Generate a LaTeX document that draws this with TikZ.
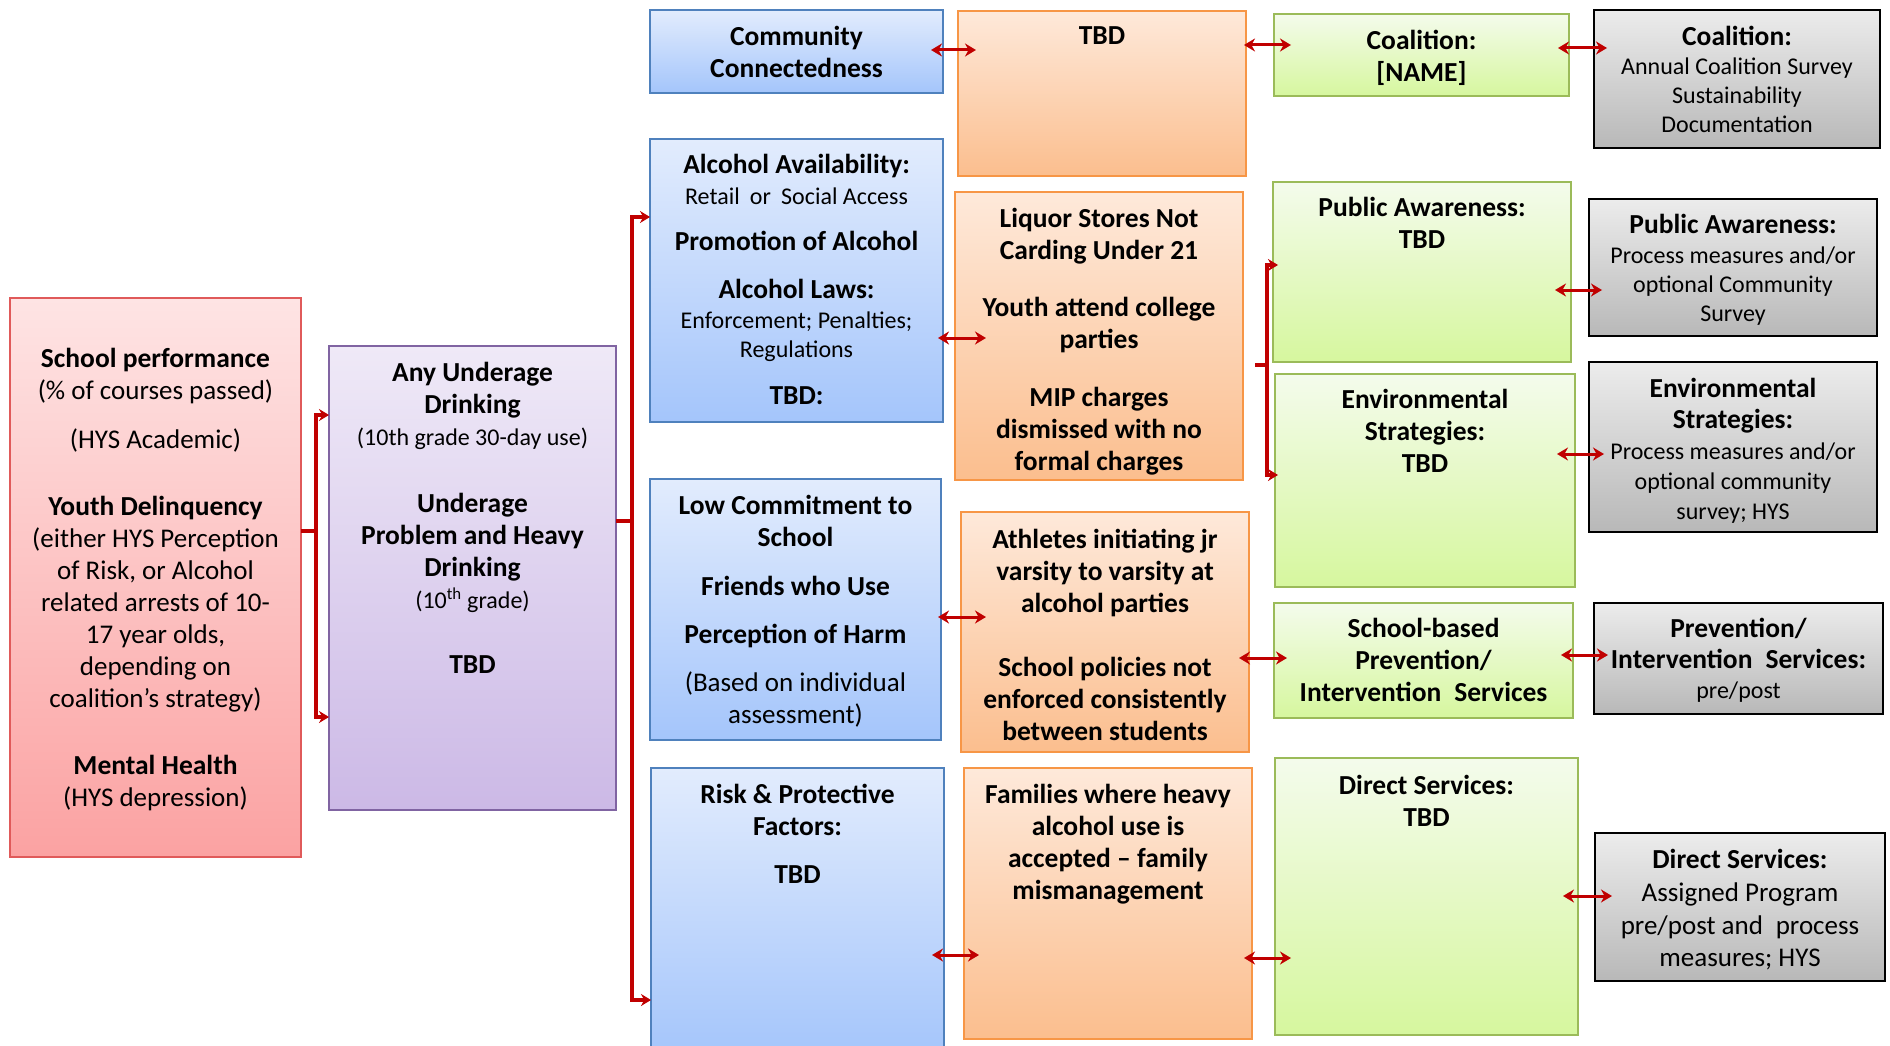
\documentclass[tikz,border=0pt]{standalone}
\usepackage{fontspec}
\setmainfont{Carlito}
\usetikzlibrary{arrows.meta}

\definecolor{arrowred}{RGB}{192,0,0}
\definecolor{redtop}{RGB}{254,228,228}
\definecolor{redbot}{RGB}{251,162,162}
\definecolor{redline}{RGB}{224,90,90}
\definecolor{purtop}{RGB}{239,233,247}
\definecolor{purbot}{RGB}{204,185,230}
\definecolor{purline}{RGB}{128,100,162}
\definecolor{blutop}{RGB}{226,236,253}
\definecolor{blubot}{RGB}{164,197,251}
\definecolor{bluline}{RGB}{79,129,189}
\definecolor{orgtop}{RGB}{254,233,218}
\definecolor{orgbot}{RGB}{251,190,142}
\definecolor{orgline}{RGB}{247,150,70}
\definecolor{grntop}{RGB}{244,251,236}
\definecolor{grnbot}{RGB}{214,247,158}
\definecolor{grnline}{RGB}{155,187,89}
\definecolor{gratop}{RGB}{236,236,236}
\definecolor{grabot}{RGB}{184,184,184}

\newcommand\smtxt{\mdseries\fontsize{24}{29}\selectfont}
\newcommand\rgtxt{\mdseries\fontsize{27}{32}\selectfont}

\begin{document}
\begin{tikzpicture}[x=1pt,y=-1pt,
  box/.style={anchor=north west, inner sep=0pt, outer sep=0pt, line width=2.5pt},
  redbox/.style={box, draw=redline, line width=1.5pt, top color=redtop, bottom color=redbot},
  purbox/.style={box, draw=purline, top color=purtop, bottom color=purbot},
  blubox/.style={box, draw=bluline, top color=blutop, bottom color=blubot},
  orgbox/.style={box, draw=orgline, top color=orgtop, bottom color=orgbot},
  grnbox/.style={box, draw=grnline, top color=grntop, bottom color=grnbot},
  grabox/.style={box, draw=black, top color=gratop, bottom color=grabot},
  txt/.style={anchor=north, inner sep=0pt, align=center, font=\bfseries\fontsize{27.5}{32}\selectfont},
  dbl/.style={draw=arrowred, line width=3pt, {Stealth[length=11pt,width=13pt]}-{Stealth[length=11pt,width=13pt]}},
  brk/.style={draw=arrowred, line width=3.2pt},
  brkboth/.style={brk, {Stealth[length=10pt,width=12pt]}-{Stealth[length=10pt,width=12pt]}},
]
\useasboundingbox (0,0) rectangle (1890,1046);

% ---------- boxes ----------
\node[redbox, minimum width=291, minimum height=559] (hl) at (10,298) {};
\node[purbox, minimum width=287, minimum height=464] (pu) at (329,346) {};

\node[blubox, minimum width=293, minimum height=83]  (b1) at (650,10) {};
\node[blubox, minimum width=293, minimum height=283] (b2) at (650,139) {};
\node[blubox, minimum width=291, minimum height=261] (b3) at (650,479) {};
\node[blubox, minimum width=293, minimum height=290] (b4) at (651,768) {};

\node[orgbox, minimum width=288, minimum height=165] (o1) at (958,11) {};
\node[orgbox, minimum width=288, minimum height=288] (o2) at (955,192) {};
\node[orgbox, minimum width=288, minimum height=240] (o3) at (961,512) {};
\node[orgbox, minimum width=288, minimum height=271] (o4) at (964,768) {};

\node[grnbox, minimum width=295, minimum height=82]  (g1) at (1274,14) {};
\node[grnbox, minimum width=298, minimum height=180] (g2) at (1273,182) {};
\node[grnbox, minimum width=300, minimum height=213] (g3) at (1275,374) {};
\node[grnbox, minimum width=299, minimum height=115] (g4) at (1274,603) {};
\node[grnbox, minimum width=303, minimum height=277] (g5) at (1275,758) {};

\node[grabox, minimum width=286, minimum height=138] (r1) at (1594,10) {};
\node[grabox, minimum width=288, minimum height=137] (r2) at (1589,199) {};
\node[grabox, minimum width=288, minimum height=170] (r3) at (1589,362) {};
\node[grabox, minimum width=289, minimum height=111] (r4) at (1594,603) {};
\node[grabox, minimum width=290, minimum height=148] (r5) at (1595,833) {};

% ---------- texts ----------
\node[txt] (hlt) at ([yshift=-50pt]hl.north) {School performance\\
  {\rgtxt (\% of courses passed)}\\[17pt]
  {\rgtxt (HYS Academic)}\\[35pt]
  Youth Delinquency\\
  {\rgtxt (either HYS Perception}\\
  {\rgtxt of Risk, or Alcohol}\\
  {\rgtxt related arrests of 10-}\\
  {\rgtxt 17 year olds,}\\
  {\rgtxt depending on}\\
  {\rgtxt coalition’s strategy)}\\[35pt]
  Mental Health\\
  {\rgtxt (HYS depression)}};

\node[txt] (put) at ([yshift=-16pt]pu.north) {Any Underage\\ Drinking\\
  {\smtxt (10th grade 30-day use)}\\[35pt]
  Underage\\ Problem and Heavy\\ Drinking\\
  {\smtxt (10\textsuperscript{th} grade)}\\[33pt]
  TBD};

\node[txt] (b1t) at ([yshift=-16pt]b1.north) {Community\\ Connectedness};
\node[txt] (b2t) at ([yshift=-15pt]b2.north) {Alcohol Availability:\\[-1pt]
  {\smtxt Retail\hspace{0.2em} or\hspace{0.2em} Social Access}\\[14pt]
  Promotion of Alcohol\\[16pt]
  Alcohol Laws:\\[-2pt]
  {\smtxt Enforcement; Penalties;}\\[-3pt]
  {\smtxt Regulations}\\[15pt]
  TBD:};
\node[txt] (b3t) at ([yshift=-16pt]b3.north) {Low Commitment to\\ School\\[17pt]
  Friends who Use\\[16pt]
  Perception of Harm\\[16pt]
  {\rgtxt (Based on individual}\\
  {\rgtxt assessment)}};
\node[txt] (b4t) at ([yshift=-16pt]b4.north) {Risk \& Protective\\ Factors:\\[16pt] TBD};

\node[txt] (o1t) at ([yshift=-15pt]o1.north) {TBD};
\node[txt] (o2t) at ([yshift=-16pt]o2.north) {Liquor Stores Not\\ Carding Under 21\\[25pt]
  Youth attend college\\ parties\\[26pt]
  MIP charges\\ dismissed with no\\ formal charges};
\node[txt] (o3t) at ([yshift=-17pt]o3.north) {Athletes initiating jr\\ varsity to varsity at\\ alcohol parties\\[32pt]
  School policies not\\ enforced consistently\\ between students};
\node[txt] (o4t) at ([yshift=-16pt]o4.north) {Families where heavy\\ alcohol use is\\ accepted – family\\ mismanagement};

\node[txt] (g1t) at ([yshift=-16pt]g1.north) {Coalition:\\ {[NAME]}};
\node[txt] (g2t) at ([yshift=-15pt]g2.north) {Public Awareness:\\ TBD};
\node[txt] (g3t) at ([yshift=-15pt]g3.north) {Environmental\\ Strategies:\\ TBD};
\node[txt] (g4t) at ([yshift=-15pt]g4.north) {School-based\\ Prevention/\\ Intervention\hspace{0.25em} Services};
\node[txt] (g5t) at ([yshift=-17pt]g5.north) {Direct Services:\\ TBD};

\node[txt, font=\bfseries\fontsize{27.5}{29}\selectfont] (r1t) at ([yshift=-16pt]r1.north) {Coalition:\\
  {\smtxt Annual Coalition Survey}\\ {\smtxt Sustainability}\\ {\smtxt Documentation}};
\node[txt, font=\bfseries\fontsize{27.5}{29}\selectfont] (r2t) at ([yshift=-15pt]r2.north) {Public Awareness:\\[1pt]
  {\smtxt Process measures and/or}\\ {\smtxt optional Community}\\ {\smtxt Survey}};
\node[txt, font=\bfseries\fontsize{27.5}{30}\selectfont] (r3t) at ([yshift=-16pt]r3.north) {Environmental\\[1pt] Strategies:\\[1pt]
  {\smtxt Process measures and/or}\\ {\smtxt optional community}\\ {\smtxt survey; HYS}};
\node[txt, font=\bfseries\fontsize{27.5}{30.5}\selectfont] (r4t) at ([yshift=-15pt]r4.north) {Prevention/\\
  Intervention\hspace{0.25em} Services:\\ {\smtxt pre/post}};
\node[txt] (r5t) at ([yshift=-16pt]r5.north) {Direct Services:\\[1pt]
  {\rgtxt Assigned Program}\\[1pt] {\rgtxt pre/post and\hspace{0.25em} process}\\ {\rgtxt measures; HYS}};

% ---------- bracket connectors ----------
\coordinate (k1) at (316,531);
\draw[brk] ([yshift=-233pt]hl.north east) -- (k1);
\draw[brkboth] ([yshift=-69pt]pu.north west) -| (k1) |- ([yshift=-371pt]pu.north west);

\coordinate (k2) at (632,521);
\draw[brk] ([yshift=-175pt]pu.north east) -- (k2);
\draw[brkboth] ([yshift=-78pt]b2.north west) -| (k2) |- ([yshift=-232pt]b4.north west);

\coordinate (k3) at (1267,365);
\draw[brk] ([shift={(12,173)}]o2.north east) -- (k3);
\draw[brkboth] ([shift={(5,83)}]g2.north west) -| (k3) |- ([shift={(3,101)}]g3.north west);

% ---------- two-way connectors ----------
\draw[dbl] ([shift={(-12,40)}]b1.north east) -- ([shift={(18,39)}]o1.north west);
\draw[dbl] ([shift={(-2,34)}]o1.north east) -- ([shift={(17,31)}]g1.north west);
\draw[dbl] ([shift={(-11,34)}]g1.north east) -- ([shift={(13,38)}]r1.north west);

\draw[dbl] ([shift={(-5,199)}]b2.north east) -- ([shift={(31,146)}]o2.north west);
\draw[dbl] ([shift={(-16,108)}]g2.north east) -- ([shift={(13,91)}]r2.north west);
\draw[dbl] ([shift={(-18,80)}]g3.north east) -- ([shift={(15,92)}]r3.north west);

\draw[dbl] ([shift={(-3,138)}]b3.north east) -- ([shift={(25,105)}]o3.north west);
\draw[dbl] ([shift={(-10,146)}]o3.north east) -- ([shift={(13,55)}]g4.north west);
\draw[dbl] ([shift={(-12,52)}]g4.north east) -- ([shift={(14,52)}]r4.north west);

\draw[dbl] ([shift={(-12,187)}]b4.north east) -- ([shift={(15,187)}]o4.north west);
\draw[dbl] ([shift={(-8,190)}]o4.north east) -- ([shift={(16,200)}]g5.north west);
\draw[dbl] ([shift={(-15,138)}]g5.north east) -- ([shift={(17,63)}]r5.north west);
\end{tikzpicture}
\end{document}
